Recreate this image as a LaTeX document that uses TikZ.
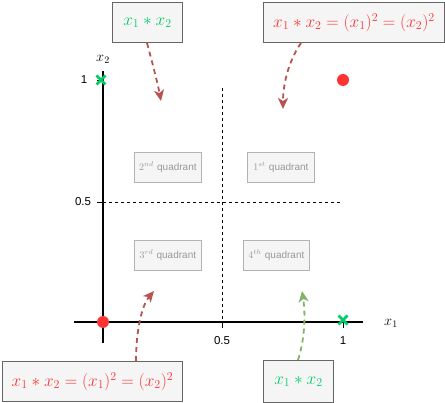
\documentclass[tikz,border=0pt]{standalone}
\usepackage{fontspec}
\setsansfont{Liberation Sans}
\usetikzlibrary{arrows.meta}
\definecolor{boxfill}{HTML}{F5F5F5}
\definecolor{boxline}{HTML}{666666}
\definecolor{qline}{HTML}{B3B3B3}
\definecolor{qtext}{HTML}{999999}
\definecolor{redtxt}{HTML}{FF3333}
\definecolor{greentxt}{HTML}{00CC66}
\definecolor{redarrow}{HTML}{B85450}
\definecolor{greenarrow}{HTML}{82B366}
\tikzset{
  infobox/.style={draw=boxline, fill=boxfill, line width=1pt, inner sep=0pt, anchor=north west, font=\fontsize{17}{20}\selectfont},
  qbox/.style={draw=qline, fill=boxfill, line width=0.8pt, inner sep=0pt, anchor=north west, text=qtext, font=\fontsize{10}{12}\selectfont},
  axis/.style={line width=1.6pt, black},
  tick/.style={line width=0.8pt, black},
  guide/.style={dashed, line width=0.7pt, black},
  pointer/.style={dashed, line width=1.8pt, dash pattern=on 5pt off 4pt, -{Stealth[length=11pt,width=10pt,inset=3pt]}},
  lbl/.style={font=\sffamily\fontsize{11.5}{13}\selectfont},
  axlbl/.style={font=\fontsize{14}{16}\selectfont},
  redpt/.style={circle, fill=redtxt, minimum size=12pt, inner sep=0pt},
}
\newcommand{\greencross}[2]{%
  \draw[greentxt, line width=2.6pt] (#1-4.5,#2-4.5) -- (#1+4.5,#2+4.5);
  \draw[greentxt, line width=2.6pt] (#1-4.5,#2+4.5) -- (#1+4.5,#2-4.5);}
\begin{document}
\begin{tikzpicture}[x=1pt,y=-1pt]
\useasboundingbox (0,0) rectangle (445,403);
% guides
\draw[guide] (222,88) -- (222,322);
\draw[guide] (103,202) -- (342,202);
% axes
\draw[axis] (103,71) -- (103,343);
\draw[axis] (74,322) -- (363,322);
% ticks
\draw[tick] (97,80) -- (103,80);
\draw[tick] (97,202) -- (103,202);
\draw[tick] (222,322) -- (222,328);
\draw[tick] (343,322) -- (343,328);
\node[lbl] (ly1) at (84,80) {1};
\node[lbl] (ly05) at (83,202) {0.5};
\node[lbl] (lx05) at (222,341) {0.5};
\node[lbl] (lx1) at (343,341) {1};
\node[axlbl] (ax2) at (103,59) {$x_2$};
\node[axlbl] (ax1) at (391,323) {$x_1$};
% points
\greencross{101}{80}
\greencross{343}{320}
\node[redpt] (p0) at (103,322) {};
\node[redpt] (p1) at (343,80) {};
% quadrant boxes
\node[qbox, minimum width=67pt, minimum height=30pt] (q2) at (134,152) {$2^{nd}$ \sffamily quadrant};
\node[qbox, minimum width=67pt, minimum height=30pt] (q1) at (247,152) {$1^{st}$ \sffamily quadrant};
\node[qbox, minimum width=67pt, minimum height=30pt] (q3) at (134,240) {$3^{rd}$ \sffamily quadrant};
\node[qbox, minimum width=66pt, minimum height=30pt] (q4) at (243,240) {$4^{th}$ \sffamily quadrant};
% info boxes
\node[infobox, minimum width=70pt, minimum height=40pt, text=greentxt] (ba) at (112,2) {$x_1 * x_2$};
\node[infobox, minimum width=181pt, minimum height=40pt, text=redtxt] (bb) at (263,2) {$x_1 * x_2 = (x_1)^2 = (x_2)^2$};
\node[infobox, minimum width=180pt, minimum height=40pt, text=redtxt] (bc) at (2,361) {$x_1 * x_2 = (x_1)^2 = (x_2)^2$};
\node[infobox, minimum width=70pt, minimum height=42pt, text=greentxt] (bd) at (263,360) {$x_1 * x_2$};
% arrow targets
\coordinate (ta) at (161,101);
\coordinate (tb) at (283,109);
\coordinate (tc) at (154,291);
\coordinate (td) at (302,291);
% pointers
\draw[pointer, redarrow] (ba.south west) ++(35,0) .. controls (153,65) and (158,85) .. (ta);
\draw[pointer, redarrow] (bb.south west) ++(38,0) .. controls (288,62) and (283,85) .. (tb);
\draw[pointer, redarrow] (bc.north west) ++(134,0) .. controls (136,330) and (142,305) .. (tc);
\draw[pointer, greenarrow] (bd.north west) ++(35,0) .. controls (306,335) and (305,310) .. (td);
\end{tikzpicture}
\end{document}
